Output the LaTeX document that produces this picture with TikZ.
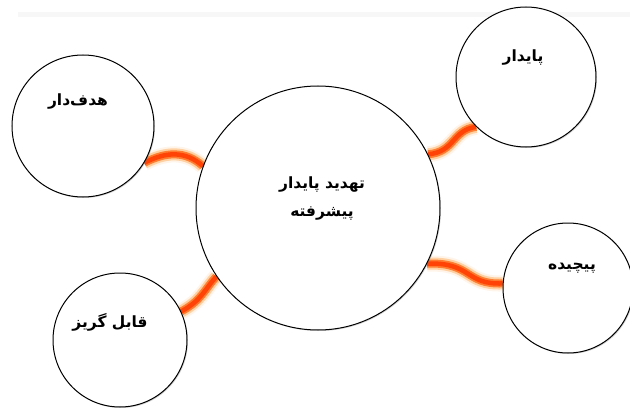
\documentclass[tikz,border=0pt]{standalone}
\usepackage{fontspec}
\newfontfamily\arabicfont[Script=Arabic]{DejaVu Sans}
\TeXXeTstate=1
\usetikzlibrary{positioning,backgrounds,shadows}

\begin{document}
\begin{tikzpicture}[x=1pt,y=-1pt,
	bubble/.style={circle, draw=black, line width=1pt, fill=white, inner sep=0pt,
		drop shadow={shadow xshift=1pt,shadow yshift=-1pt,opacity=.35}},
	word/.style={font=\arabicfont\bfseries\fontsize{15.5}{28}\selectfont, inner sep=1pt, align=center},
	glow/.style={line width=16pt, draw=orange!25, opacity=.35,
		postaction={draw=orange!70, line width=12pt, opacity=.45},
		postaction={draw=orange!70!red, line width=8pt, opacity=.7},
		postaction={draw=red!55!orange, line width=4.5pt, opacity=.85}}]
	\useasboundingbox (0,0) rectangle (630,412);
	% نوار کم‌رنگ بالا
	\fill[gray!6] (18,12) rectangle (630,17);
	% دایره‌ها
	\node[bubble, minimum size=244pt] (core) at (318,208) {};
	\node[bubble, minimum size=142pt] (hadaf) at (83,126) {};
	\node[bubble, minimum size=140pt] (paydar) at (526,77) {};
	\node[bubble, minimum size=130pt] (pichide) at (568,288) {};
	\node[bubble, minimum size=134pt] (goriz) at (120,340) {};
	% متن‌ها
	\node[word] at ([xshift=4pt,yshift=9pt]core.center) {\beginR تهدید پایدار\endR\\\beginR پیشرفته\endR};
	\node[word] at ([xshift=-5pt,yshift=24pt]hadaf.center) {\beginR هدف‌دار\endR};
	\node[word] at ([xshift=-3pt,yshift=19pt]paydar.center) {\beginR پایدار\endR};
	\node[word] at ([xshift=4pt,yshift=20pt]pichide.center) {\beginR پیچیده\endR};
	\node[word] at ([xshift=-10pt,yshift=18pt]goriz.center) {\beginR قابل گریز\endR};
	% اتصال‌ها
	\begin{scope}[on background layer]
	\draw[glow] (hadaf.-31) .. controls (165,152) and (185,150) .. (core.160);
	\draw[glow] (core.26) .. controls (455,152) and (452,130) .. (paydar.225);
	\draw[glow] (core.-27) .. controls (472,262) and (465,285) .. (pichide.176);
	\draw[glow] (goriz.25) .. controls (202,300) and (204,290) .. (core.214);
	\end{scope}
\end{tikzpicture}
\end{document}
